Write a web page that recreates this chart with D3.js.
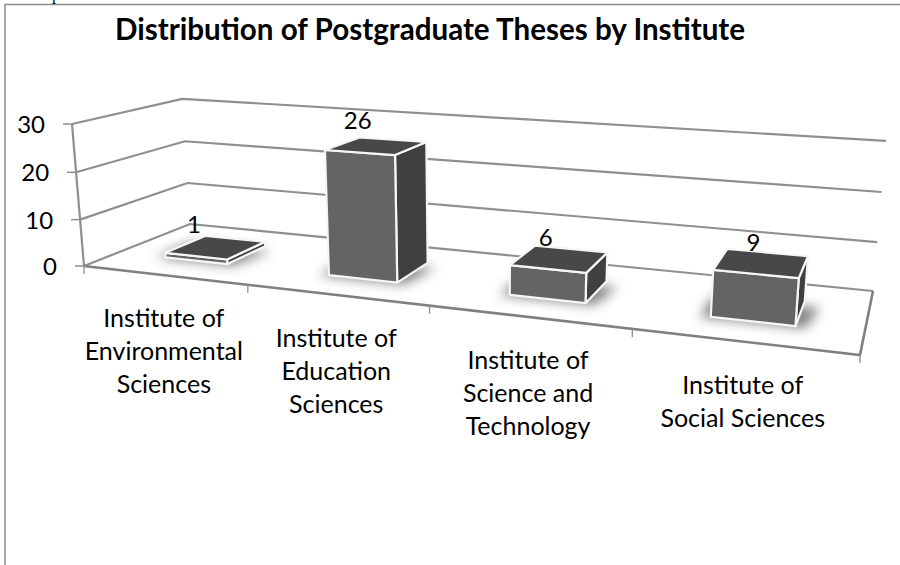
<!DOCTYPE html>
<html><head><meta charset="utf-8">
<script src="https://cdn.jsdelivr.net/npm/d3@7"></script>
<style>html,body{margin:0;padding:0;background:#fff}svg{display:block}</style>
</head><body><div id="c"></div>
<script>
const categories = ["Institute of Environmental Sciences","Institute of Education Sciences","Institute of Science and Technology","Institute of Social Sciences"];
const categoryLines = [["Institute of","Environmental","Sciences"],["Institute of","Education","Sciences"],["Institute of","Science and","Technology"],["Institute of","Social Sciences"]];
const values = [1,26,6,9];
const yTicks = [0,10,20,30];
const title = "Distribution of Postgraduate Theses by Institute";

const W=900,H=565;
const svg=d3.select("#c").append("svg").attr("width",W).attr("height",H);
const FONT="Lato, Carlito, sans-serif";
const defs=svg.append("defs");
defs.append("filter").attr("id","shadow").attr("x","-40%").attr("y","-80%").attr("width","180%").attr("height","260%")
  .append("feGaussianBlur").attr("stdDeviation",6);
defs.append("filter").attr("id","soft").append("feGaussianBlur").attr("stdDeviation",0.45);

// scales in chart space
const x=d3.scaleBand().domain(categories).range([0,1]).paddingInner(0.61).paddingOuter(0.305);
const xEdge=d3.scaleLinear().domain([0,categories.length]).range([0,1]);
const y=d3.scaleLinear().domain([0,30]).range([0,1]);
const depth=d3.scaleLinear().domain([0,1]).range([0.3,0.7]);

// perspective camera: floor quad homography + vertical vanishing point
const C=[[84,266],[860,355],[873,291],[190,224]];
const vp=[477,4920], hj=-0.0296;
const sx=C[0][0]-C[1][0]+C[2][0]-C[3][0], sy=C[0][1]-C[1][1]+C[2][1]-C[3][1];
const dx1=C[1][0]-C[2][0], dx2=C[3][0]-C[2][0], dy1=C[1][1]-C[2][1], dy2=C[3][1]-C[2][1];
const det=dx1*dy2-dx2*dy1;
const g=(sx*dy2-dx2*sy)/det, i=(dx1*sy-sx*dy1)/det;
const a=C[1][0]-C[0][0]+g*C[1][0], b=C[3][0]-C[0][0]+i*C[3][0];
const d=C[1][1]-C[0][1]+g*C[1][1], e=C[3][1]-C[0][1]+i*C[3][1];
function P(u,v,h){
  const w=1+g*u+i*v+hj*h;
  return [(C[0][0]+a*u+b*v+vp[0]*hj*h)/w,(C[0][1]+d*u+e*v+vp[1]*hj*h)/w];
}
const path=d3.line();
const poly=pts=>path(pts)+"Z";

// border
const gridCol="#8f8f8f";
svg.append("path").attr("d",path([[5,565],[5,4.5],[900,4.5]])).attr("fill","none").attr("stroke","#8c8c8c").attr("stroke-width",1.5);
svg.append("text").attr("x",52).attr("y",0).attr("font-family","Liberation Serif").attr("font-size",16).attr("fill","#000").text("p");

// walls / gridlines
const grid=svg.append("g").attr("fill","none").attr("stroke",gridCol).attr("stroke-width",2.2).attr("filter","url(#soft)");
yTicks.forEach(t=>{
  const h=y(t);
  grid.append("path").attr("d",path([P(0,0,h),P(0,1,h),P(1,1,h)]));
});
grid.append("path").attr("d",path([P(0,0,y(30)),P(0,0,0)]));
grid.append("path").attr("d",path([P(1,1,0),P(1,0,0),P(0,0,0)])).attr("stroke","#808080").attr("stroke-width",2.6);

// y ticks and labels
yTicks.forEach(t=>{
  const p=P(0,0,y(t));
  grid.append("path").attr("d",path([[p[0]-9,p[1]],p])).attr("stroke-width",1.5);
  svg.append("text").attr("x",p[0]-27).attr("y",p[1]+9).attr("text-anchor","end")
    .attr("font-family",FONT).attr("font-size",24).attr("fill","#000").text(t);
});
// x ticks and labels
d3.range(0,categories.length+1).forEach(k=>{
  const p=P(xEdge(k),0,0);
  grid.append("path").attr("d",path([p,[p[0],p[1]+8]])).attr("stroke-width",1.3);
});
categories.forEach((c,k)=>{
  const p=P(x(c)+x.bandwidth()/2,0,0);
  const t=svg.append("text").attr("text-anchor","middle").attr("font-family",FONT).attr("font-size",25).attr("fill","#000");
  categoryLines[k].forEach((l,n)=>t.append("tspan").attr("x",p[0]).attr("y",p[1]+52+n*33).text(l));
});

// bars
const bars=svg.selectAll("g.bar").data(categories).join("g").attr("class","bar");
bars.each(function(c,k){
  const s=d3.select(this), v=values[k];
  const u0=x(c),u1=x(c)+x.bandwidth(),d0=depth(0),d1=depth(1),h=y(v);
  // soft floor shadow
  s.append("path").attr("d",poly([P(u0-.012,d0-.02,0),P(u1+.012,d0-.02,0),P(u1+.02,d1-.08,0),P(u0-.012,d1-.08,0)]))
    .attr("fill","#666").attr("filter","url(#shadow)").attr("opacity",.8);
  const st={stroke:"#f6f6f6","stroke-width":2.2,"stroke-linejoin":"round"};
  const face=(pts,fill)=>{const f=s.append("path").attr("d",poly(pts)).attr("fill",fill);Object.entries(st).forEach(([m,n])=>f.attr(m,n));};
  face([P(u1,d0,0),P(u1,d1,0),P(u1,d1,h),P(u1,d0,h)],"#404040");
  face([P(u0,d0,0),P(u1,d0,0),P(u1,d0,h),P(u0,d0,h)],"#646464");
  face([P(u0,d0,h),P(u1,d0,h),P(u1,d1,h),P(u0,d1,h)],"#484848");
  const lp=P(u0+x.bandwidth()/2,d0,h);
  svg.append("text").attr("x",lp[0]-2).attr("y",lp[1]-23).attr("text-anchor","middle")
    .attr("font-family",FONT).attr("font-size",24).attr("fill","#000").text(v);
});

svg.append("text").attr("x",430).attr("y",40).attr("text-anchor","middle")
  .attr("font-family",FONT).attr("font-weight",700).attr("font-size",29.6).attr("fill","#000").text(title);
</script></body></html>
